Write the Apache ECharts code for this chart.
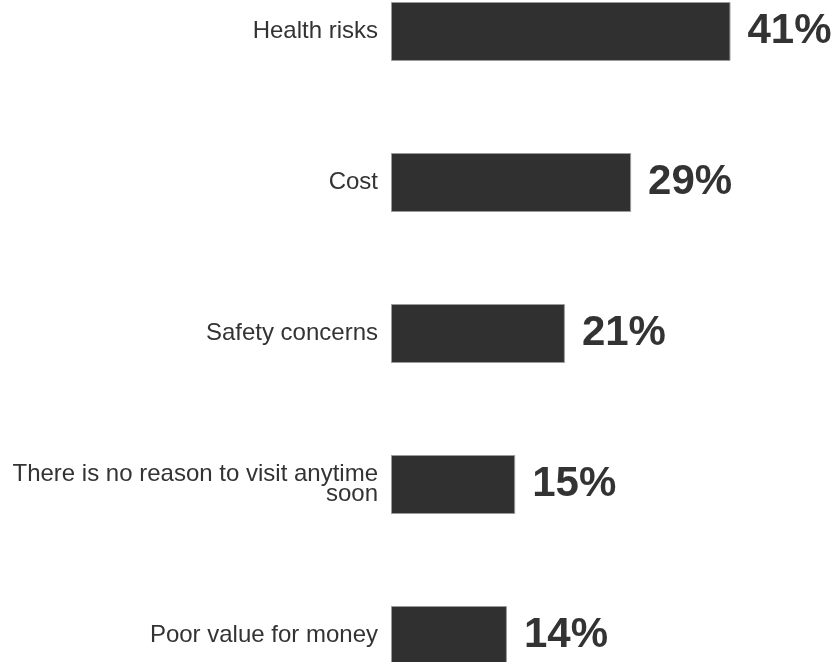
<!DOCTYPE html>
<html>
<head>
<meta charset="utf-8">
<script src="https://cdn.jsdelivr.net/npm/echarts@6/dist/echarts.min.js"></script>
<style>
  html, body { margin: 0; padding: 0; background: #fff; }
  #chart { width: 835px; height: 662px; }
</style>
</head>
<body>
<div id="chart"></div>
<script>
var categories = [
    'Health risks',
    'Cost',
    'Safety concerns',
    'There is no reason to visit anytime\nsoon',
    'Poor value for money'
];
var values = [41, 29, 21, 15, 14];

var textColor = '#333333';
var barColor = '#303030';

var myChart = echarts.init(document.getElementById('chart'));

var option = {
    backgroundColor: '#ffffff',
    animation: false,
    grid: {
        left: 391,
        right: 30,
        top: -44,
        height: 755,
        outerBoundsMode: 'none'
    },
    xAxis: {
        type: 'value',
        min: 0,
        max: 50,
        show: false
    },
    yAxis: {
        type: 'category',
        data: categories,
        inverse: true,
        axisLine: { show: false },
        axisTick: { show: false },
        splitLine: { show: false },
        axisLabel: {
            margin: 13,
            color: textColor,
            fontFamily: 'Liberation Sans, Arial, sans-serif',
            fontSize: 24,
            lineHeight: 20,
            align: 'right'
        }
    },
    series: [
        {
            type: 'bar',
            data: values,
            barWidth: 59,
            itemStyle: {
                color: barColor,
                borderColor: '#9a9a9a',
                borderWidth: 1
            },
            label: {
                show: true,
                position: 'right',
                distance: 17,
                color: textColor,
                fontFamily: 'Liberation Sans, Arial, sans-serif',
                fontWeight: 'bold',
                fontSize: 42,
                formatter: function (p) {
                    return p.value + '%';
                }
            }
        }
    ]
};

myChart.setOption(option);
</script>
</body>
</html>
